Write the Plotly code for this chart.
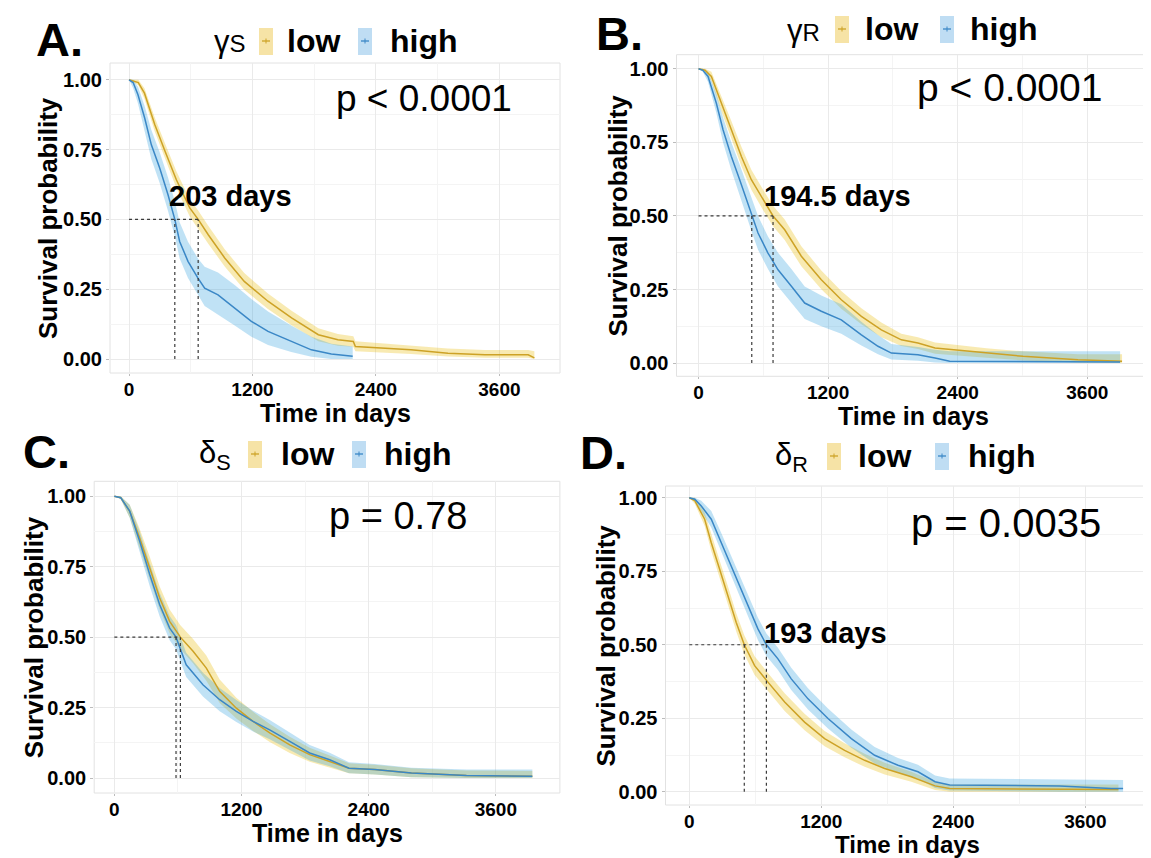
import plotly.graph_objects as go

W, H = 1151, 858

# ---------------- data ----------------
x_ticks = [0, 1200, 2400, 3600]
y_ticks = [0.0, 0.25, 0.50, 0.75, 1.00]
y_tick_text = ["0.00", "0.25", "0.50", "0.75", "1.00"]
group_names = ["low", "high"]

# Panel A  (gamma_S)
A_low_t = [0, 90, 150, 250, 350, 460, 590, 672, 770, 930, 1120, 1350, 1580, 1840, 2030, 2180, 2200, 2740, 3100, 3460, 3880, 3940]
A_low_s = [1.0, 0.99, 0.952, 0.84, 0.744, 0.642, 0.541, 0.5, 0.445, 0.362, 0.278, 0.207, 0.147, 0.087, 0.069, 0.063, 0.045, 0.033, 0.021, 0.015, 0.015, 0.004]
A_low_up = [1.0, 1.0, 0.97, 0.865, 0.772, 0.672, 0.572, 0.532, 0.477, 0.393, 0.308, 0.235, 0.173, 0.11, 0.09, 0.082, 0.064, 0.05, 0.038, 0.032, 0.032, 0.028]
A_low_lo = [1.0, 0.98, 0.932, 0.815, 0.716, 0.612, 0.51, 0.468, 0.413, 0.331, 0.248, 0.179, 0.121, 0.064, 0.048, 0.044, 0.028, 0.018, 0.009, 0.005, 0.005, 0.0]
A_high_t = [0, 40, 87, 152, 217, 298, 379, 445, 492, 573, 670, 735, 865, 1027, 1189, 1351, 1577, 1772, 1966, 2174]
A_high_s = [1.0, 0.99, 0.946, 0.863, 0.767, 0.684, 0.588, 0.5, 0.421, 0.35, 0.29, 0.254, 0.23, 0.183, 0.135, 0.099, 0.063, 0.033, 0.018, 0.01]
A_high_up = [1.0, 1.0, 0.975, 0.905, 0.82, 0.74, 0.65, 0.565, 0.49, 0.42, 0.36, 0.33, 0.31, 0.265, 0.215, 0.17, 0.12, 0.08, 0.055, 0.045]
A_high_lo = [1.0, 0.97, 0.915, 0.82, 0.715, 0.63, 0.53, 0.44, 0.36, 0.29, 0.23, 0.19, 0.16, 0.12, 0.08, 0.05, 0.025, 0.008, 0.0, 0.0]
A_medians = [445, 672]

# Panel B  (gamma_R)
B_low_t = [0, 60, 119, 211, 304, 397, 489, 597, 690, 798, 952, 1137, 1322, 1508, 1693, 1878, 2032, 2190, 2666, 3005, 3514, 3922]
B_low_s = [1.0, 0.995, 0.974, 0.883, 0.793, 0.702, 0.623, 0.555, 0.5, 0.453, 0.363, 0.283, 0.215, 0.159, 0.113, 0.079, 0.068, 0.051, 0.034, 0.023, 0.011, 0.006]
B_low_up = [1.0, 1.0, 0.99, 0.91, 0.823, 0.735, 0.657, 0.59, 0.535, 0.488, 0.397, 0.315, 0.245, 0.186, 0.138, 0.1, 0.088, 0.07, 0.05, 0.04, 0.03, 0.03]
B_low_lo = [1.0, 0.99, 0.958, 0.856, 0.763, 0.669, 0.589, 0.52, 0.465, 0.418, 0.329, 0.251, 0.185, 0.132, 0.088, 0.058, 0.048, 0.032, 0.018, 0.009, 0.002, 0.0]
B_high_t = [0, 40, 88, 165, 227, 304, 381, 443, 493, 551, 643, 736, 860, 983, 1137, 1322, 1508, 1662, 1786, 2032, 2190, 2326, 3904]
B_high_s = [1.0, 0.995, 0.974, 0.883, 0.793, 0.702, 0.623, 0.555, 0.5, 0.442, 0.374, 0.317, 0.261, 0.204, 0.176, 0.147, 0.096, 0.057, 0.034, 0.028, 0.017, 0.006, 0.004]
B_high_up = [1.0, 1.0, 0.99, 0.915, 0.835, 0.75, 0.675, 0.61, 0.555, 0.5, 0.43, 0.375, 0.32, 0.26, 0.23, 0.2, 0.14, 0.095, 0.065, 0.055, 0.045, 0.04, 0.04]
B_high_lo = [1.0, 0.99, 0.955, 0.85, 0.75, 0.655, 0.57, 0.5, 0.445, 0.385, 0.32, 0.26, 0.205, 0.15, 0.125, 0.1, 0.06, 0.03, 0.012, 0.008, 0.002, 0.0, 0.0]
B_medians = [493, 690]

# Panel C  (delta_S)
C_low_t = [0, 60, 145, 239, 334, 428, 522, 623, 743, 868, 994, 1151, 1309, 1466, 1655, 1843, 2032, 2214, 2456, 2803, 3322, 3944]
C_low_s = [1.0, 0.995, 0.947, 0.852, 0.745, 0.639, 0.556, 0.5, 0.45, 0.39, 0.308, 0.248, 0.201, 0.16, 0.118, 0.083, 0.059, 0.035, 0.03, 0.018, 0.0095, 0.006]
C_low_up = [1.0, 1.0, 0.97, 0.885, 0.785, 0.68, 0.598, 0.542, 0.493, 0.435, 0.35, 0.285, 0.235, 0.192, 0.147, 0.108, 0.08, 0.053, 0.047, 0.035, 0.027, 0.025]
C_low_lo = [1.0, 0.99, 0.924, 0.819, 0.705, 0.598, 0.514, 0.458, 0.407, 0.345, 0.266, 0.211, 0.167, 0.128, 0.089, 0.058, 0.038, 0.017, 0.013, 0.003, 0.0, 0.0]
C_high_t = [0, 60, 145, 239, 334, 428, 522, 582, 678, 836, 994, 1151, 1309, 1466, 1655, 1843, 2032, 2214, 2456, 2803, 3322, 3944]
C_high_s = [1.0, 0.995, 0.947, 0.84, 0.722, 0.615, 0.532, 0.5, 0.402, 0.331, 0.278, 0.237, 0.201, 0.171, 0.13, 0.089, 0.065, 0.035, 0.03, 0.018, 0.0095, 0.006]
C_high_up = [1.0, 1.0, 0.97, 0.875, 0.763, 0.657, 0.575, 0.543, 0.445, 0.374, 0.32, 0.277, 0.239, 0.206, 0.162, 0.117, 0.09, 0.056, 0.05, 0.037, 0.03, 0.03]
C_high_lo = [1.0, 0.99, 0.924, 0.805, 0.681, 0.573, 0.489, 0.457, 0.359, 0.289, 0.237, 0.199, 0.165, 0.138, 0.099, 0.062, 0.042, 0.017, 0.013, 0.003, 0.0, 0.0]
C_medians = [582, 623]

# Panel D  (delta_R)
D_low_t = [0, 50, 140, 200, 276, 352, 427, 500, 594, 715, 867, 1048, 1230, 1412, 1594, 1776, 2018, 2234, 2367, 3901]
D_low_s = [1.0, 0.99, 0.927, 0.847, 0.757, 0.667, 0.576, 0.5, 0.429, 0.373, 0.305, 0.237, 0.181, 0.141, 0.107, 0.079, 0.051, 0.02, 0.011, 0.008]
D_low_up = [1.0, 1.0, 0.95, 0.875, 0.787, 0.698, 0.607, 0.532, 0.461, 0.404, 0.335, 0.265, 0.207, 0.165, 0.129, 0.099, 0.068, 0.034, 0.025, 0.025]
D_low_lo = [1.0, 0.98, 0.904, 0.819, 0.727, 0.636, 0.545, 0.468, 0.397, 0.342, 0.275, 0.209, 0.155, 0.117, 0.085, 0.059, 0.034, 0.006, 0.0, 0.0]
D_high_t = [0, 50, 109, 200, 291, 382, 473, 548, 624, 701, 806, 927, 1079, 1261, 1473, 1685, 1897, 2079, 2234, 2367, 3367, 3834, 3943]
D_high_s = [1.0, 0.995, 0.972, 0.927, 0.847, 0.768, 0.689, 0.621, 0.554, 0.5, 0.452, 0.384, 0.316, 0.249, 0.181, 0.124, 0.09, 0.068, 0.034, 0.023, 0.02, 0.011, 0.011]
D_high_up = [1.0, 1.0, 0.99, 0.955, 0.88, 0.803, 0.725, 0.658, 0.592, 0.538, 0.49, 0.422, 0.352, 0.283, 0.212, 0.152, 0.115, 0.092, 0.055, 0.045, 0.042, 0.04, 0.04]
D_high_lo = [1.0, 0.99, 0.954, 0.899, 0.814, 0.733, 0.653, 0.584, 0.516, 0.462, 0.414, 0.346, 0.28, 0.215, 0.15, 0.096, 0.065, 0.044, 0.013, 0.004, 0.0, 0.0, 0.0]
D_medians = [500, 701]

panel_letters = ["A.", "B.", "C.", "D."]
strata_symbols = ["γ<span style='font-size:24px'>S</span>", "γ<span style='font-size:24px'>R</span>",
                  "δ<sub>S</sub>", "δ<sub>R</sub>"]
p_texts = ["p < 0.0001", "p < 0.0001", "p = 0.78", "p = 0.0035"]
median_texts = ["203 days", "194.5 days", None, "193 days"]

# ---------------- styling ----------------
FONT = "Liberation Sans, Arial, Helvetica, sans-serif"
LOW_LINE = "#CDA226"
HIGH_LINE = "#3A87C6"
LOW_FILL = "rgba(231,184,0,0.30)"
HIGH_FILL = "rgba(46,159,223,0.30)"
LOW_KEY = "#F6E3A6"
HIGH_KEY = "#BFDDF3"

# layout geometry, in pixels of the 1151x858 picture
panels = [
    dict(xd=(102, 552), yd=(55, 365), xr=(-185, 4189), yr=(-0.050, 1.060),
         low=(A_low_t, A_low_s, A_low_up, A_low_lo), high=(A_high_t, A_high_s, A_high_up, A_high_lo), med=A_medians,
         letter=(51, 31), leg_y=33, sym=222, box1=258, low_x=277, box2=357, high_x=380,
         p=(326, 90, 37), mtxt=(222, 188), xt_y=405, yt_x=40, tfs=25),
    dict(xd=(668.5, 1141.6), yd=(46.7, 368.3), xr=(-204, 4177), yr=(-0.045, 1.048),
         low=(B_low_t, B_low_s, B_low_up, B_low_lo), high=(B_high_t, B_high_s, B_high_up, B_high_lo), med=B_medians,
         letter=(611, 26), leg_y=21, sym=795, box1=834, low_x=855, box2=939, high_x=960,
         p=(907, 80, 39), mtxt=(829, 188), xt_y=408, yt_x=609, tfs=25),
    dict(xd=(86.2, 551.9), yd=(473.3, 785), xr=(-190, 4204), yr=(-0.053, 1.053),
         low=(C_low_t, C_low_s, C_low_up, C_low_lo), high=(C_high_t, C_high_s, C_high_up, C_high_lo), med=C_medians,
         letter=(38, 443), leg_y=446, sym=207, box1=247, low_x=271, box2=351, high_x=374,
         p=(319, 508, 38), mtxt=None, xt_y=825, yt_x=26, tfs=25),
    dict(xd=(657.5, 1141.6), yd=(478, 797), xr=(-216, 4184), yr=(-0.045, 1.040),
         low=(D_low_t, D_low_s, D_low_up, D_low_lo), high=(D_high_t, D_high_s, D_high_up, D_high_lo), med=D_medians,
         letter=(596, 444), leg_y=448, sym=783, box1=826, low_x=848, box2=934, high_x=958,
         p=(901, 515, 40), mtxt=(817, 625), xt_y=836, yt_x=597, tfs=24),
]


def px(x):
    return x / W


def py(y):
    return 1 - y / H


fig = go.Figure()
annotations = []
shapes = []

for i, P in enumerate(panels):
    n = "" if i == 0 else str(i + 1)
    xa, ya = "x" + n, "y" + n
    # confidence bands
    for (t, s, up, lo), fill in ((P["low"], LOW_FILL), (P["high"], HIGH_FILL)):
        fig.add_trace(go.Scatter(x=list(t) + list(t)[::-1], y=list(up) + list(lo)[::-1],
                                 fill="toself", fillcolor=fill, line=dict(width=0),
                                 mode="lines", hoverinfo="skip", showlegend=False,
                                 xaxis=xa, yaxis=ya))
    # survival curves
    for (t, s, up, lo), col, name in ((P["low"], LOW_LINE, "low"), (P["high"], HIGH_LINE, "high")):
        fig.add_trace(go.Scatter(x=t, y=s, mode="lines", line=dict(color=col, width=1.5),
                                 name=name, showlegend=False, xaxis=xa, yaxis=ya))
    # median lines
    med = P["med"]
    mx = [0, max(med), None]
    my = [0.5, 0.5, None]
    for m in med:
        mx += [m, m, None]
        my += [0, 0.5, None]
    fig.add_trace(go.Scatter(x=mx, y=my, mode="lines",
                             line=dict(color="#3a3a3a", width=1.2, dash="dot"),
                             hoverinfo="skip", showlegend=False, xaxis=xa, yaxis=ya))

    xd = [px(P["xd"][0]), px(P["xd"][1])]
    yd = [py(P["yd"][1]), py(P["yd"][0])]
    fig.layout["xaxis" + n] = dict(
        domain=xd, range=list(P["xr"]), anchor=ya, tickvals=x_ticks,
        ticktext=[str(v) for v in x_ticks],
        tickfont=dict(family=FONT, size=19, color="black", weight="bold"),
        ticklabelstandoff=-3,
        showgrid=True, gridcolor="#EAEAEA", gridwidth=1, zeroline=False,
        ticks="outside", ticklen=2, tickcolor="#BBBBBB", showline=False,
        minor=dict(tickvals=[600, 1800, 3000], showgrid=True, gridcolor="#F4F4F4", gridwidth=1),
        fixedrange=True)
    fig.layout["yaxis" + n] = dict(
        domain=yd, range=list(P["yr"]), anchor=xa, tickvals=y_ticks,
        ticktext=y_tick_text, tickfont=dict(family=FONT, size=20, color="black", weight="bold"),
        showgrid=True, gridcolor="#EAEAEA", gridwidth=1, zeroline=False,
        ticks="outside", ticklen=3, tickcolor="#BBBBBB", showline=False,
        minor=dict(tickvals=[0.125, 0.375, 0.625, 0.875], showgrid=True, gridcolor="#F4F4F4", gridwidth=1),
        fixedrange=True)

    # panel border
    shapes.append(dict(type="rect", xref="paper", yref="paper",
                       x0=xd[0], x1=xd[1], y0=yd[0], y1=yd[1],
                       line=dict(color="#E2E2E2", width=1), fillcolor="rgba(0,0,0,0)", layer="below"))

    # panel letter
    annotations.append(dict(text="<b>%s</b>" % panel_letters[i], x=px(P["letter"][0]), y=py(P["letter"][1]),
                            xref="paper", yref="paper", showarrow=False, xanchor="center", yanchor="middle",
                            font=dict(family=FONT, size=47, color="black")))
    # legend: symbol, keys, labels
    ly = P["leg_y"]
    annotations.append(dict(text=strata_symbols[i], x=px(P["sym"]), y=py(ly + 1),
                            xref="paper", yref="paper", showarrow=False, xanchor="center", yanchor="middle",
                            font=dict(family=FONT, size=31, color="black")))
    for bx, key, lc in ((P["box1"], LOW_KEY, LOW_LINE), (P["box2"], HIGH_KEY, HIGH_LINE)):
        shapes.append(dict(type="rect", xref="paper", yref="paper",
                           x0=px(bx - 7), x1=px(bx + 7), y0=py(ly + 14), y1=py(ly - 13),
                           line=dict(width=0), fillcolor=key))
        shapes.append(dict(type="line", xref="paper", yref="paper",
                           x0=px(bx - 4), x1=px(bx + 4), y0=py(ly), y1=py(ly),
                           line=dict(color=lc, width=1.3)))
        shapes.append(dict(type="line", xref="paper", yref="paper",
                           x0=px(bx), x1=px(bx), y0=py(ly - 2.5), y1=py(ly + 2.5),
                           line=dict(color=lc, width=1)))
    annotations.append(dict(text="<b>%s</b>" % group_names[0], x=px(P["low_x"]), y=py(ly),
                            xref="paper", yref="paper", showarrow=False, xanchor="left", yanchor="middle",
                            font=dict(family=FONT, size=32, color="black")))
    annotations.append(dict(text="<b>%s</b>" % group_names[1], x=px(P["high_x"]), y=py(ly),
                            xref="paper", yref="paper", showarrow=False, xanchor="left", yanchor="middle",
                            font=dict(family=FONT, size=32, color="black")))
    # p value
    annotations.append(dict(text=p_texts[i], x=px(P["p"][0]), y=py(P["p"][1]),
                            xref="paper", yref="paper", showarrow=False, xanchor="left", yanchor="middle",
                            font=dict(family=FONT, size=P["p"][2], color="black")))
    # median difference
    if median_texts[i]:
        annotations.append(dict(text="<b>%s</b>" % median_texts[i], x=px(P["mtxt"][0]), y=py(P["mtxt"][1]),
                                xref="paper", yref="paper", showarrow=False, xanchor="center", yanchor="middle",
                                font=dict(family=FONT, size=29, color="black")))
    # axis titles
    xc = (P["xd"][0] + P["xd"][1]) / 2
    yc = (P["yd"][0] + P["yd"][1]) / 2
    annotations.append(dict(text="<b>Time in days</b>", x=px(xc), y=py(P["xt_y"]),
                            xref="paper", yref="paper", showarrow=False, xanchor="center", yanchor="middle",
                            borderpad=0, font=dict(family=FONT, size=P["tfs"], color="black")))
    annotations.append(dict(text="<b>Survival probability</b>", x=px(P["yt_x"]), y=py(yc),
                            xref="paper", yref="paper", showarrow=False, xanchor="center", yanchor="middle",
                            textangle=-90, font=dict(family=FONT, size=26, color="black")))

fig.update_layout(width=W, height=H, margin=dict(l=0, r=0, t=0, b=0),
                  paper_bgcolor="white", plot_bgcolor="white", showlegend=False,
                  annotations=annotations, shapes=shapes,
                  font=dict(family=FONT, color="black"))

fig.write_html("out.html")
